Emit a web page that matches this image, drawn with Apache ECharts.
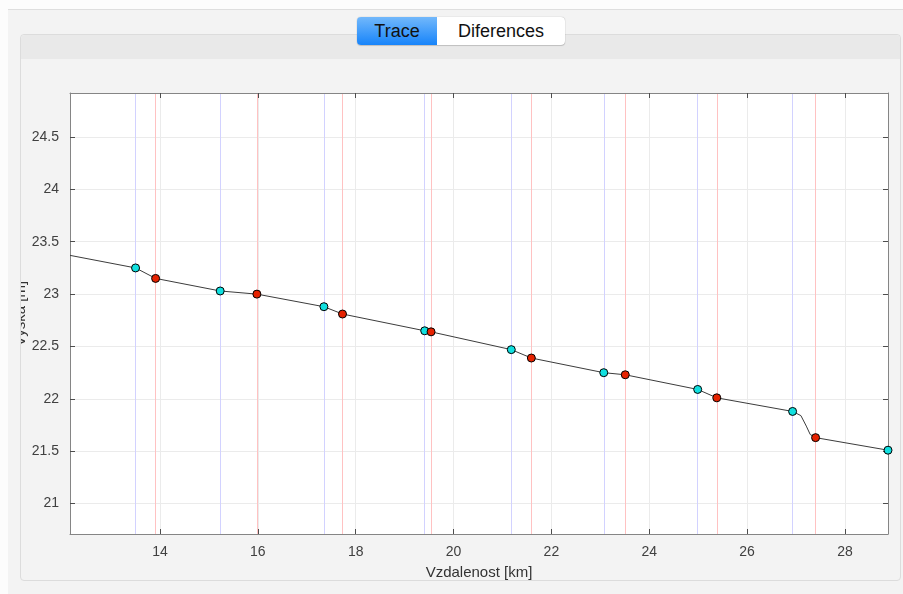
<!DOCTYPE html>
<html lang="cs">
<head>
<meta charset="UTF-8">
<title>Trace</title>
<script src="https://cdn.jsdelivr.net/npm/echarts@6.0.0/dist/echarts.min.js"></script>
<style>
    html, body { margin: 0; padding: 0; }
    body {
        width: 903px; height: 594px; position: relative; overflow: hidden;
        background: #fcfcfc;
        font-family: "Liberation Sans", Arial, sans-serif;
    }
    #outer {
        position: absolute; left: 8px; top: 9px; right: 0; bottom: 0;
        background: #f3f3f3; border-top: 1px solid #dedede;
    }
    #panel {
        position: absolute; left: 20px; top: 34px; width: 879px; height: 545px;
        border: 1px solid #dcdcdc; border-radius: 4px; background: #f3f3f3;
    }
    #panelHead {
        position: absolute; left: 0; top: 0; right: 0; height: 24px;
        background: #e9e9e9; border-radius: 4px 4px 0 0;
    }
    #tabs {
        position: absolute; left: 357px; top: 17px; width: 208px; height: 28px;
        border-radius: 4px; background: #fff; display: flex;
        box-shadow: 0 0 1px rgba(0,0,0,0.35), 0 1px 1px rgba(0,0,0,0.15);
        font-size: 18px; line-height: 28px; color: #111;
    }
    #tabs div { text-align: center; }
    #tabTrace {
        width: 80px; border-radius: 4px 0 0 4px;
        background: linear-gradient(#72b8fb, #1784fa);
    }
    #tabDiff { flex: 1; }
    #chart { position: absolute; left: 21px; top: 59px; width: 879px; height: 521px; }
</style>
</head>
<body>
<div id="outer"></div>
<div id="panel"><div id="panelHead"></div></div>
<div id="tabs"><div id="tabTrace">Trace</div><div id="tabDiff">Diferences</div></div>
<div id="chart"></div>

<script>
    // trace (black line)
    var traceX = [12.16, 13.50, 13.91, 15.23, 15.98, 17.35, 17.73, 19.41, 19.54, 21.18, 21.59,
                  23.07, 23.51, 24.99, 25.38, 26.93, 27.10, 27.21, 27.29, 27.40, 28.88];
    var traceY = [23.37, 23.25, 23.15, 23.03, 23.00, 22.88, 22.81, 22.65, 22.64, 22.47, 22.39,
                  22.25, 22.23, 22.09, 22.01, 21.88, 21.84, 21.74, 21.66, 21.63, 21.51];

    // cyan points
    var cyanX = [13.50, 15.23, 17.35, 19.41, 21.18, 23.07, 24.99, 26.93, 28.88];
    var cyanY = [23.25, 23.03, 22.88, 22.65, 22.47, 22.25, 22.09, 21.88, 21.51];

    // red points
    var redX = [13.91, 15.98, 17.73, 19.54, 21.59, 23.51, 25.38, 27.40];
    var redY = [23.15, 23.00, 22.81, 22.64, 22.39, 22.23, 22.01, 21.63];

    // axes
    var xTicks = [14, 16, 18, 20, 22, 24, 26, 28];
    var yTicks = [21, 21.5, 22, 22.5, 23, 23.5, 24, 24.5];
    var xRange = [12.16, 28.88];
    var yRange = [20.71, 24.92];

    function pairs(xs, ys) {
        return xs.map(function (x, i) { return [x, ys[i]]; });
    }

    var axisFont = { fontFamily: 'Liberation Sans', fontSize: 14, color: '#404040' };
    var tickStyle = { lineStyle: { color: '#4d4d4d', width: 1 } };
    var gridLine = { show: true, lineStyle: { color: '#ebebeb', width: 1, type: 'solid' } };

    // hidden x axis used only to draw vertical marker lines as split lines
    function markerAxis(vals, color) {
        return {
            type: 'value', position: 'bottom', min: xRange[0], max: xRange[1],
            axisLine: { show: false },
            axisTick: { show: false, customValues: vals },
            axisLabel: { show: false, customValues: vals },
            splitLine: { show: true, customValues: vals, lineStyle: { color: color, width: 1, type: 'solid' } }
        };
    }

    var chart = echarts.init(document.getElementById('chart'), null, { renderer: 'canvas' });

    chart.setOption({
        animation: false,
        grid: {
            left: 49, top: 34, right: 12, bottom: 46,
            outerBoundsMode: 'none', containLabel: false,
            show: true, backgroundColor: '#ffffff', borderWidth: 0
        },
        xAxis: [{
            type: 'value', position: 'bottom', min: xRange[0], max: xRange[1],
            name: 'Vzdalenost [km]', nameLocation: 'middle', nameGap: 31,
            nameMoveOverlap: false,
            nameTextStyle: { fontFamily: 'Liberation Sans', fontSize: 15, color: '#333' },
            axisLine: { show: true, lineStyle: { color: '#858585' } },
            axisTick: Object.assign({ show: true, inside: true, length: 5, customValues: xTicks }, tickStyle),
            axisLabel: Object.assign({ customValues: xTicks, margin: 11 }, axisFont),
            splitLine: Object.assign({ customValues: xTicks }, gridLine)
        }, {
            type: 'value', position: 'top', min: xRange[0], max: xRange[1],
            axisLine: { show: true, lineStyle: { color: '#858585' } },
            axisTick: Object.assign({ show: true, inside: true, length: 5, customValues: xTicks }, tickStyle),
            axisLabel: { show: false },
            splitLine: { show: false }
        },
            markerAxis(cyanX, '#d2d2ff'),
            markerAxis(redX, '#ffc2c2')
        ],
        yAxis: [{
            type: 'value', position: 'left', min: yRange[0], max: yRange[1],
            name: 'Vyska [m]', nameLocation: 'middle', nameGap: 42,
            nameMoveOverlap: false,
            nameTextStyle: { fontFamily: 'Liberation Sans', fontSize: 15, color: '#333' },
            axisLine: { show: true, lineStyle: { color: '#858585' } },
            axisTick: Object.assign({ show: true, inside: true, length: 5, customValues: yTicks }, tickStyle),
            axisLabel: Object.assign({ customValues: yTicks, margin: 11 }, axisFont),
            splitLine: Object.assign({ customValues: yTicks }, gridLine)
        }, {
            type: 'value', position: 'right', min: yRange[0], max: yRange[1],
            axisLine: { show: true, lineStyle: { color: '#858585' } },
            axisTick: Object.assign({ show: true, inside: true, length: 5, customValues: yTicks }, tickStyle),
            axisLabel: { show: false },
            splitLine: { show: false }
        }],
        series: [
            {
                type: 'line', data: pairs(traceX, traceY), z: 3,
                symbol: 'none', lineStyle: { color: '#3c3c3c', width: 1 }
            },
            {
                type: 'scatter', data: pairs(cyanX, cyanY), z: 4,
                symbol: 'circle', symbolSize: 8,
                itemStyle: { color: '#11e0e0', borderColor: '#000', borderWidth: 1, opacity: 1 }
            },
            {
                type: 'scatter', data: pairs(redX, redY), z: 4,
                symbol: 'circle', symbolSize: 8,
                itemStyle: { color: '#e62200', borderColor: '#000', borderWidth: 1, opacity: 1 }
            }
        ]
    });
</script>
</body>
</html>
